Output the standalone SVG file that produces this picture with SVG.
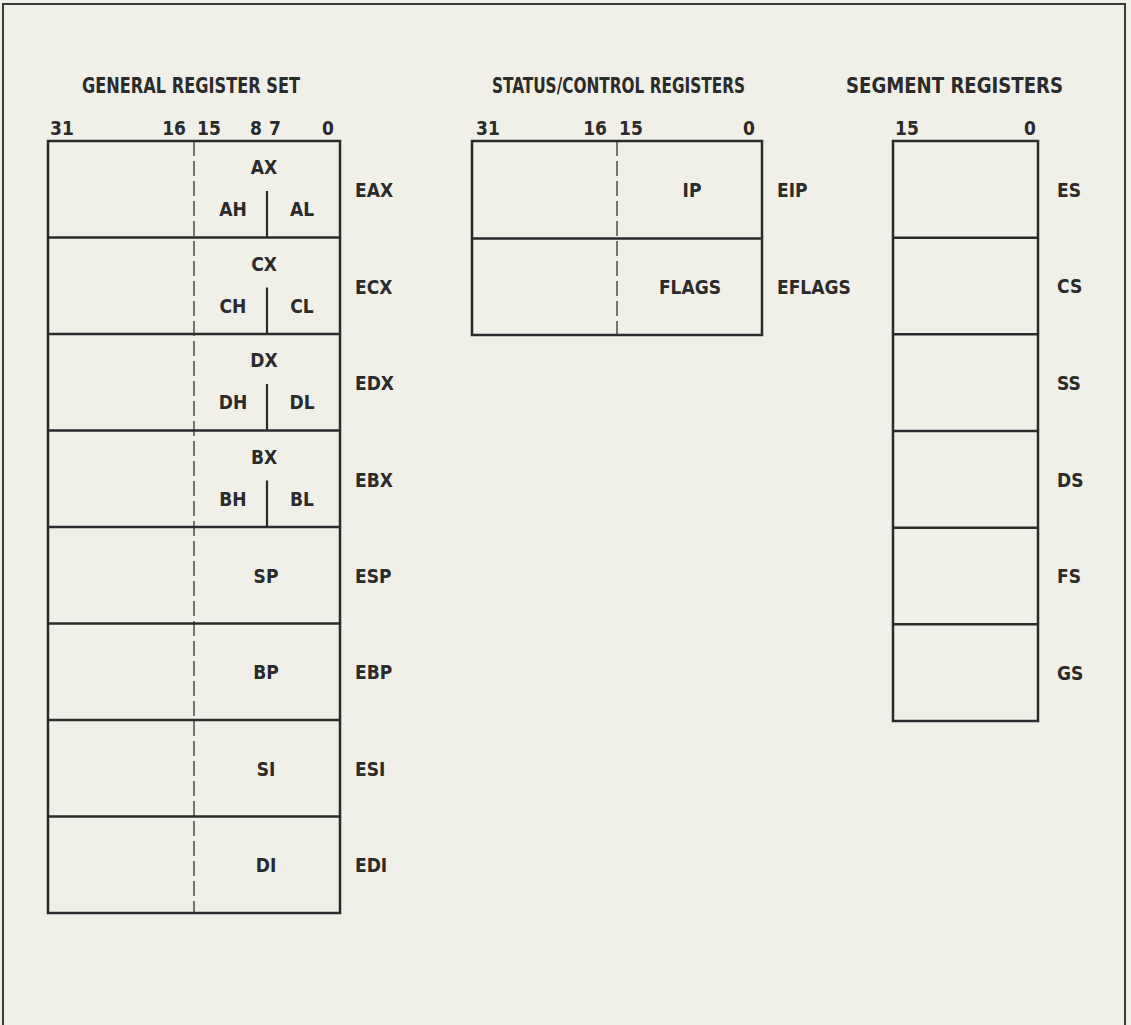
<svg xmlns="http://www.w3.org/2000/svg" width="1131" height="1025" viewBox="0 0 1131 1025">
<style>
text{font-family:"DejaVu Sans Condensed","DejaVu Sans","Liberation Sans",sans-serif;font-stretch:condensed;font-weight:bold;font-size:19px;fill:#2b2b2b}
.t{font-size:20.5px}
.m{text-anchor:middle}
.e{text-anchor:end}
.box{fill:none;stroke:#2b2b2b;stroke-width:2.5}
.row{stroke:#2b2b2b;stroke-width:2.5}
.div{stroke:#2b2b2b;stroke-width:2.2}
.dash{stroke:#333;stroke-width:1.3;stroke-dasharray:15 5}
</style>
<rect width="1131" height="1025" fill="#f0f0e8"/>
<path d="M3,1025 V4 H1125 V1025" fill="none" stroke="#3a3a3a" stroke-width="2"/>

<g id="general">
<text class="t" x="82" y="93" textLength="218" lengthAdjust="spacingAndGlyphs">GENERAL REGISTER SET</text>
<text x="50" y="135">31</text>
<text x="186" y="135" class="e">16</text>
<text x="197" y="135">15</text>
<text x="262" y="135" class="e">8</text>
<text x="269" y="135">7</text>
<text x="334" y="135" class="e">0</text>
<rect class="box" x="48" y="141" width="292" height="772"/>
<line class="dash" x1="194" y1="141" x2="194" y2="913"/>
<g class="row">
<line x1="48" y1="237.5" x2="340" y2="237.5"/>
<line x1="48" y1="334" x2="340" y2="334"/>
<line x1="48" y1="430.5" x2="340" y2="430.5"/>
<line x1="48" y1="527" x2="340" y2="527"/>
<line x1="48" y1="623.5" x2="340" y2="623.5"/>
<line x1="48" y1="720" x2="340" y2="720"/>
<line x1="48" y1="816.5" x2="340" y2="816.5"/>
</g>
<g class="div">
<line x1="267" y1="191" x2="267" y2="237.5"/>
<line x1="267" y1="287.5" x2="267" y2="334"/>
<line x1="267" y1="384" x2="267" y2="430.5"/>
<line x1="267" y1="480.5" x2="267" y2="527"/>
</g>
</g>

<g id="eax">
<text x="264" y="174" class="m">AX</text>
<text x="233" y="216" class="m">AH</text>
<text x="302" y="216" class="m">AL</text>
<text x="355" y="197">EAX</text>
</g>
<g id="ecx">
<text x="264" y="270.5" class="m">CX</text>
<text x="233" y="312.5" class="m">CH</text>
<text x="302" y="312.5" class="m">CL</text>
<text x="355" y="293.5">ECX</text>
</g>
<g id="edx">
<text x="264" y="367" class="m">DX</text>
<text x="233" y="409" class="m">DH</text>
<text x="302" y="409" class="m">DL</text>
<text x="355" y="390">EDX</text>
</g>
<g id="ebx">
<text x="264" y="463.5" class="m">BX</text>
<text x="233" y="505.5" class="m">BH</text>
<text x="302" y="505.5" class="m">BL</text>
<text x="355" y="486.5">EBX</text>
</g>
<g id="esp">
<text x="266" y="582.5" class="m">SP</text>
<text x="355" y="582.5">ESP</text>
</g>
<g id="ebp">
<text x="266" y="679" class="m">BP</text>
<text x="355" y="679">EBP</text>
</g>
<g id="esi">
<text x="266" y="775.5" class="m">SI</text>
<text x="355" y="775.5">ESI</text>
</g>
<g id="edi">
<text x="266" y="872" class="m">DI</text>
<text x="355" y="872">EDI</text>
</g>

<g id="status">
<text class="t" x="492" y="93" textLength="253" lengthAdjust="spacingAndGlyphs">STATUS/CONTROL REGISTERS</text>
<text x="476" y="135">31</text>
<text x="607" y="135" class="e">16</text>
<text x="619" y="135">15</text>
<text x="755" y="135" class="e">0</text>
<rect class="box" x="472" y="141" width="290" height="194"/>
<line class="dash" x1="617" y1="141" x2="617" y2="335"/>
<line class="row" x1="472" y1="238.5" x2="762" y2="238.5"/>
</g>
<g id="eip">
<text x="692" y="197" class="m">IP</text>
<text x="777" y="197">EIP</text>
</g>
<g id="eflags">
<text x="690" y="294" class="m">FLAGS</text>
<text x="777" y="294">EFLAGS</text>
</g>

<g id="segment">
<text class="t" x="846" y="93" textLength="217" lengthAdjust="spacingAndGlyphs">SEGMENT REGISTERS</text>
<text x="895" y="135">15</text>
<text x="1036" y="135" class="e">0</text>
<rect class="box" x="893" y="141" width="145" height="580"/>
<g class="row">
<line x1="893" y1="237.7" x2="1038" y2="237.7"/>
<line x1="893" y1="334.3" x2="1038" y2="334.3"/>
<line x1="893" y1="431" x2="1038" y2="431"/>
<line x1="893" y1="527.7" x2="1038" y2="527.7"/>
<line x1="893" y1="624.3" x2="1038" y2="624.3"/>
</g>
</g>
<g id="es"><text x="1057" y="196.5">ES</text></g>
<g id="cs"><text x="1057" y="293">CS</text></g>
<g id="ss"><text x="1057" y="389.5">SS</text></g>
<g id="ds"><text x="1057" y="486.5">DS</text></g>
<g id="fs"><text x="1057" y="583">FS</text></g>
<g id="gs"><text x="1057" y="679.5">GS</text></g>
</svg>
